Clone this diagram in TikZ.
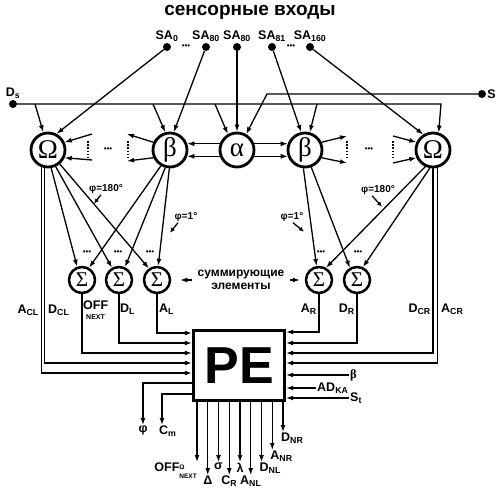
\documentclass[tikz,border=0pt]{standalone}
\usepackage{fontspec}
\setmainfont{Liberation Sans}
\newfontfamily\grk{Liberation Serif}
\usetikzlibrary{arrows.meta,calc}
\tikzset{
  arr/.style={-{Latex[length=7pt,width=5pt]}, line width=1.3pt},
  sarr/.style={-{Latex[length=5pt,width=4.5pt]}, line width=1.3pt},
  wire/.style={line width=1.3pt},
  bigc/.style={draw, circle, line width=2.8pt, minimum size=34pt, inner sep=0pt, font=\grk\fontsize{27}{27}\selectfont},
  sumc/.style={draw, circle, line width=2.5pt, minimum size=26pt, inner sep=0pt, font=\grk\fontsize{21}{21}\selectfont},
  dot/.style={circle, fill, inner sep=0pt, minimum size=8pt},
  lab/.style={font=\bfseries\fontsize{12.5}{13}\selectfont, inner sep=1pt},
  philab/.style={font=\bfseries\fontsize{10}{10}\selectfont, inner sep=1pt},
  dotsn/.style={font=\fontsize{8}{8}\selectfont, inner sep=0pt},
  vdots/.style={line width=2pt, dash pattern=on 1.6pt off 1.6pt},
  pebox/.style={draw, line width=3.4pt, minimum width=91pt, minimum height=70pt, font=\bfseries\fontsize{52}{52}\selectfont}
}
\begin{document}
\begin{tikzpicture}[x=1pt, y=-1pt]
\useasboundingbox (0,0) rectangle (501,500);
\node[font=\bfseries\fontsize{19}{19}\selectfont] (title) at (250,12) {сенсорные входы};
% sensor inputs
\node[dot, label={[lab]above:SA\textsubscript{0}}] (sa0) at (167,47) {};
\node[dot, label={[lab]above:SA\textsubscript{80}}] (sa80) at (206,47) {};
\node[dot, label={[lab]above:SA\textsubscript{80}}] (sa80b) at (237,47) {};
\node[dot, label={[lab]above:SA\textsubscript{81}}] (sa81) at (272,47) {};
\node[dot, label={[lab]above:SA\textsubscript{160}}] (sa160) at (310,47) {};
\node[dotsn] (sad1) at (186,47) {•••};
\node[dotsn] (sad2) at (291,47) {•••};
\node[dot, label={[lab]above:D\textsubscript{s}}] (ds) at (13,104) {};
\node[dot, label={[lab]right:S}] (sin) at (482,94) {};
% detectors
\node[bigc] (omL) at (48,150) {Ω};
\node[bigc] (betL) at (170,150) {β};
\node[bigc] (alp) at (237,150) {α};
\node[bigc] (betR) at (305,150) {β};
\node[bigc] (omR) at (433,150) {Ω};
% summing elements
\node[sumc] (sig1) at (82,280) {Σ};
\node[sumc] (sig2) at (119,280) {Σ};
\node[sumc] (sig3) at (157,280) {Σ};
\node[sumc] (sig4) at (319,280) {Σ};
\node[sumc] (sig5) at (357,280) {Σ};
\node[pebox] (pe) at (239,365.5) {PE};

\coordinate (dsend) at (441,104);
\coordinate (sk) at (267,94);
\foreach \n/\x in {a/35,b/153,c/215,d/317} \coordinate (ds\n) at (\x,104);
\foreach \n/\x/\y in {l1/92/134, l2/92/160, l3/127/134, l4/127/161, r1/347/136, r2/347/163, r3/393/136, r4/393/163}
  \coordinate (\n) at (\x,\y);

\draw[arr] (ds) -- (dsend) -- (omR.72);
\draw[arr] (dsa) -- (omL.105);
\draw[arr] (dsb) -- (betL.105);
\draw[arr] (dsc) -- (alp.120);
\draw[arr] (dsd) -- (betR.75);
\draw[arr] (sin) -- (sk) -- (alp.60);
\draw[arr] (sa0) -- (omL.62);
\draw[arr] (sa80) -- (betL.78);
\draw[arr] (sa80b) -- (alp.north);
\draw[arr] (sa81) -- (betR.102);
\draw[arr] (sa160) -- (omR.122);

\draw[arr] (alp.160) -- (betL.20);
\draw[arr] (alp.200) -- (betL.-20);
\draw[arr] (alp.20) -- (betR.160);
\draw[arr] (alp.-20) -- (betR.200);

\draw[vdots] (88,141) -- (88,158);
\draw[vdots] (128,141) -- (128,158);
\draw[vdots] (347,141) -- (347,158);
\draw[vdots] (393,141) -- (393,158);
\node[dotsn] (mdl) at (108,150) {•••};
\node[dotsn] (mdr) at (369,150) {•••};
\draw[arr] (l1) -- (omL.25);
\draw[arr] (l2) -- (omL.-25);
\draw[arr] (betL.155) -- (l3);
\draw[arr] (betL.205) -- (l4);
\draw[arr] (betR.25) -- (r1);
\draw[arr] (betR.-25) -- (r2);
\draw[arr] (r3) -- (omR.155);
\draw[arr] (r4) -- (omR.205);

\draw[arr] (omL.-80) -- (sig1.110);
\draw[arr] (omL.-65) -- (sig2.120);
\draw[arr] (omL.-50) -- (sig3.125);
\draw[arr] (betL.-120) -- (sig1.60);
\draw[arr] (betL.-105) -- (sig2.65);
\draw[arr] (betL.-92) -- (sig3.85);
\draw[arr] (betR.-95) -- (sig4.100);
\draw[arr] (betR.-70) -- (sig5.120);
\draw[arr] (omR.-115) -- (sig4.60);
\draw[arr] (omR.-100) -- (sig5.65);
\foreach \x in {87,118,150,321,358} \node[dotsn] at (\x,253) {•••};

\node[philab] (f1) at (106,189) {φ=180°};
\draw[sarr] ([xshift=-5pt]f1.south) -- ++(-7,9);
\node[philab] (f2) at (186,217) {φ=1°};
\draw[sarr] ([xshift=-8pt]f2.south) -- ++(-8,10);
\node[philab] (f3) at (292,217) {φ=1°};
\draw[sarr] ([xshift=1pt]f3.south) -- ++(11,9);
\node[philab] (f4) at (378,190) {φ=180°};
\draw[sarr] ([xshift=-6pt]f4.south) -- ++(10,11);

\node[font=\bfseries\fontsize{12}{13}\selectfont, align=center] (sumtxt) at (241,280) {суммирующие\\элементы};
\draw[arr, shorten <=2pt, shorten >=9pt] (sumtxt.west) -- (sig3.east);
\draw[arr, shorten <=2pt, shorten >=5pt] (sumtxt.east) -- (sig4.west);

% inputs of PE
\draw[arr] (omL.-110) |- (pe.west |- 0,373);
\draw[arr] (omL.-100) |- (pe.west |- 0,363);
\draw[arr] (sig1.south) |- (pe.west |- 0,353);
\draw[arr] (sig2.south) |- (pe.west |- 0,343);
\draw[arr] (sig3.south) |- (pe.west |- 0,333);
\draw[arr] (sig4.south) |- (pe.east |- 0,332);
\draw[arr] (sig5.south) |- (pe.east |- 0,343);
\draw[arr] (omR.south) |- (pe.east |- 0,353);
\draw[arr] (omR.-75) |- (pe.east |- 0,363);
\node[lab, anchor=east] (acl) at (40,310) {A\textsubscript{CL}};
\node[lab, anchor=west] (dcl) at (47,310) {D\textsubscript{CL}};
\node[lab, anchor=north west, align=left] (offl) at (82,300) {OFF\\[-3pt]\hspace*{3pt}{\fontsize{7}{7}\selectfont NEXT}};
\node[lab, anchor=west] (dl) at (119,309) {D\textsubscript{L}};
\node[lab, anchor=west] (al) at (158,309) {A\textsubscript{L}};
\node[lab, anchor=east] (ar) at (318,309) {A\textsubscript{R}};
\node[lab, anchor=east] (dr) at (356,309) {D\textsubscript{R}};
\node[lab, anchor=east] (dcr) at (432,309) {D\textsubscript{CR}};
\node[lab, anchor=west] (acr) at (440,309) {A\textsubscript{CR}};

\node[lab, anchor=west] (lbet) at (349,375) {\grk β};
\draw[arr] (lbet.west) -- (pe.east |- lbet.west);
\node[lab, anchor=west] (ladka) at (316,388) {AD\textsubscript{KA}};
\draw[arr] (ladka.west) -- (pe.east |- ladka.west);
\node[lab, anchor=west] (lst) at (349,398) {S\textsubscript{t}};
\draw[arr] (lst.west) -- (pe.east |- lst.west);

% outputs of PE
\draw[arr] (pe.west |- 0,383) -| (143,425) coordinate (phio);
\node[lab, anchor=north] (lphi) at (phio) {φ};
\draw[arr] (pe.west |- 0,394) -| (162,425) coordinate (cmo);
\node[lab, anchor=north west] (lcm) at ([xshift=-4pt]cmo) {C\textsubscript{m}};
\foreach \i/\e [evaluate=\i as \x using 197+10.75*\i] in {0/462,1/475,2/462,3/475,4/462,5/475,6/462,7/450,8/432}
  \draw[arr] (pe.south -| \x,0) -- (\x,\e) coordinate (out\i);
\node[lab, anchor=north east] (loff) at ([xshift=1pt]out0) {OFF\raisebox{-0.3ex}{\fontsize{6.5}{8.5}\selectfont\begin{tabular}{@{}l@{}}Ω\\NEXT\end{tabular}}};
\node[lab, anchor=north] (ldel) at (out1) {Δ};
\node[lab, anchor=north] (lsig) at (out2) {σ};
\node[lab, anchor=north] (lcr) at (out3) {C\textsubscript{R}};
\node[lab, anchor=north] (llam) at (out4) {λ};
\node[lab, anchor=north] (lanl) at (out5) {A\textsubscript{NL}};
\node[lab, anchor=north west] (ldnl) at ([xshift=-3pt]out6) {D\textsubscript{NL}};
\node[lab, anchor=north west] (lanr) at ([xshift=-3pt]out7) {A\textsubscript{NR}};
\node[lab, anchor=north west] (ldnr) at ([xshift=-3pt]out8) {D\textsubscript{NR}};
\end{tikzpicture}
\end{document}
